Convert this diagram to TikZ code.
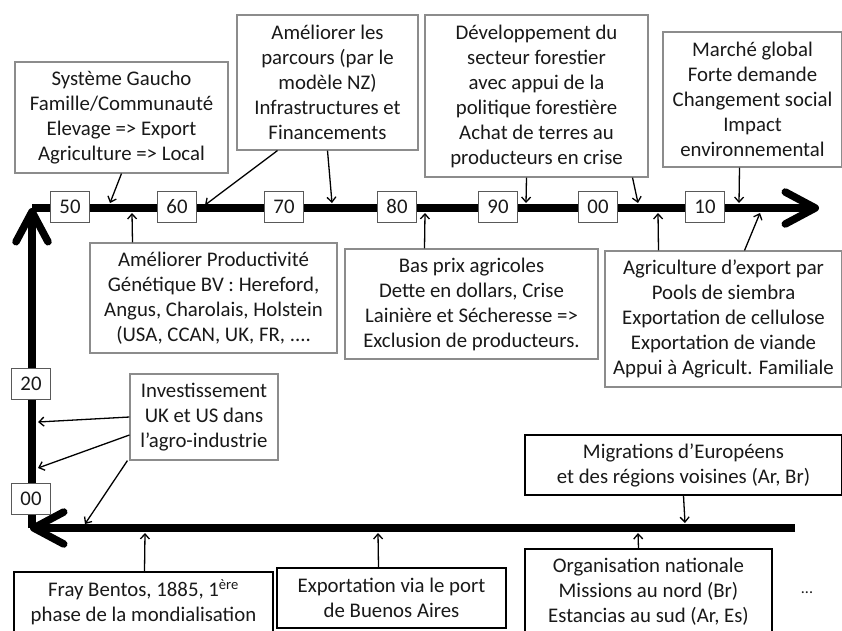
\documentclass[tikz,border=0pt]{standalone}
\usepackage{fontspec}
\setmainfont{Carlito}
\usepackage{tikz}
\usetikzlibrary{arrows.meta,positioning}

\begin{document}
\begin{tikzpicture}[
  x=1pt, y=-1pt,
  note/.style={draw=black!45, line width=1.1pt, fill=white, align=center, inner sep=0pt, text=black!90, font=\fontsize{20.8}{25}\selectfont},
  strongnote/.style={note, draw=black, line width=1.8pt},
  year/.style={draw=black!65, line width=1pt, fill=white, minimum width=39pt, minimum height=31pt, inner sep=0pt, text height=13.5pt, text depth=0pt, text=black!90, font=\fontsize{20.8}{25}\selectfont},
  axisline/.style={line width=7.5pt, -{Straight Barb[round, length=30pt, width=32pt]}},
  link/.style={-{Straight Barb[length=5pt, width=9pt]}, line width=1.3pt}
]
\useasboundingbox (0,0) rectangle (842,630);

% axes: 19th century (bottom, leftwards), 1900-1940 (left, upwards), 1950-2010 (top)
\coordinate (botR) at (795,528);
\coordinate (botL) at (30,528);
\coordinate (vertB) at (32,528);
\coordinate (vertT) at (32,208);
\coordinate (topL) at (32,208);
\coordinate (topR) at (819,208);
\draw[axisline] (botR) -- (botL);
\draw[axisline] (vertB) -- (vertT);
\draw[axisline] (topL) -- (topR);

% decades
\node[year] (y50) at (70,207) {50};
\node[year] (y60) at (177,207) {60};
\node[year] (y70) at (284,207) {70};
\node[year] (y80) at (397,207) {80};
\node[year] (y90) at (498,207) {90};
\node[year] (y00) at (598,207) {00};
\node[year] (y10) at (705,207) {10};
\node[year] (v20) at (31,384) {20};
\node[year] (v00) at (31,499) {00};

% events above the top axis
\node[note, minimum width=213pt, minimum height=111pt] (sys) at (121.5,117.5) {Système Gaucho\\Famille/Communauté\\Elevage => Export\\Agriculture => Local};
\node[note, minimum width=181pt, minimum height=135pt] (parc) at (327.5,82.5) {Améliorer les\\parcours (par le\\modèle NZ)\\Infrastructures et\\Financements};
\node[note, minimum width=223pt, minimum height=162pt] (dev) at (536.5,96) {Développement du\\secteur forestier\\avec appui de la\\politique forestière\\Achat de terres au\\producteurs en crise};
\node[note, minimum width=179pt, minimum height=135pt] (mar) at (752.5,99.5) {Marché global\\Forte demande\\Changement social\\Impact\\environnemental};

% events below the top axis
\node[note, minimum width=247pt, minimum height=110pt] (prod) at (213.5,298) {Améliorer Productivité\\Génétique BV : Hereford,\\Angus, Charolais, Holstein\\(USA, CCAN, UK, FR, ....};
\node[note, minimum width=253pt, minimum height=110pt] (bas) at (471.5,304) {Bas prix agricoles\\Dette en dollars, Crise\\Lainière et Sécheresse =>\\Exclusion de producteurs.};
\node[note, minimum width=237pt, minimum height=136pt] (agr) at (723.5,319) {Agriculture d’export par\\Pools de siembra\\Exportation de cellulose\\Exportation de viande\\Appui à Agricult. Familiale};
\node[note, minimum width=148pt, minimum height=86pt] (inv) at (204,417) {Investissement\\UK et US dans\\l’agro-industrie};

% 19th century
\node[strongnote, minimum width=317pt, minimum height=60pt] (mig) at (683.5,465) {Migrations d’Européens\\et des régions voisines (Ar, Br)};
\node[strongnote, minimum width=259pt, minimum height=60pt] (fray) at (143.5,602) {Fray Bentos, 1885, 1\textsuperscript{ère}\\phase de la mondialisation};
\node[strongnote, minimum width=229pt, minimum height=60pt] (expo) at (391.5,598) {Exportation via le port\\de Buenos Aires};
\node[strongnote, minimum width=247pt, minimum height=85pt] (org) at (648.5,591.5) {Organisation nationale\\Missions au nord (Br)\\Estancias au sud (Ar, Es)};
\node[text=black!90, font=\fontsize{16}{20}\selectfont] (dots) at (807,593) {...};

% points on the axes
\coordinate (pSys) at (110,203);
\coordinate (pParcA) at (205,205);
\coordinate (pParcB) at (332,203);
\coordinate (pDevA) at (526,203);
\coordinate (pDevB) at (638,203);
\coordinate (pMar) at (739,203);
\coordinate (pProd) at (132,213);
\coordinate (pBas) at (425,213);
\coordinate (pAgrA) at (658,213);
\coordinate (pAgrB) at (760,213);
\coordinate (pInvA) at (38,422);
\coordinate (pInvB) at (38,468);
\coordinate (pInvC) at (85,524);
\coordinate (pMig) at (685,523);
\coordinate (pFray) at (145,533);
\coordinate (pExpo) at (378,533);
\coordinate (pOrg) at (638,533);

\draw[link] (sys.south) -- (pSys);
\draw[link] ([xshift=-50]parc.south) -- (pParcA);
\draw[link] (parc.south) -- (pParcB);
\draw[link] ([xshift=-10]dev.south) -- (pDevA);
\draw[link] ([xshift=96]dev.south) -- (pDevB);
\draw[link] ([xshift=-13]mar.south) -- (pMar);
\draw[link] ([xshift=-81]prod.north) -- (pProd);
\draw[link] ([xshift=-47]bas.north) -- (pBas);
\draw[link] ([xshift=-65]agr.north) -- (pAgrA);
\draw[link] ([xshift=21]agr.north) -- (pAgrB);
\draw[link] (inv.west) -- (pInvA);
\draw[link] ([yshift=-18]inv.west) -- (pInvB);
\draw[link] ([xshift=-2]inv.south west) -- (pInvC);
\draw[link] (mig.south) -- (pMig);
\draw[link] ([xshift=1]fray.north) -- (pFray);
\draw[link] ([xshift=-13]expo.north) -- (pExpo);
\draw[link] ([xshift=-10]org.north) -- (pOrg);
\end{tikzpicture}
\end{document}
